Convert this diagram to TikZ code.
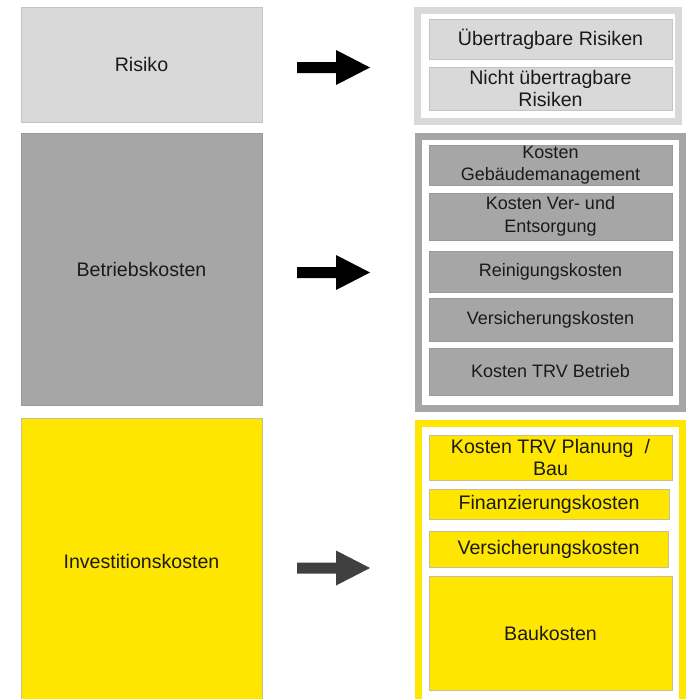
\documentclass[tikz,border=0pt]{standalone}
\usepackage{fontspec}
\setmainfont{Liberation Sans}
\definecolor{lgrey}{HTML}{D9D9D9}
\definecolor{lgreyb}{HTML}{C4C4C4}
\definecolor{mgrey}{HTML}{A6A6A6}
\definecolor{mgreyb}{HTML}{9A9A9A}
\definecolor{eyyel}{HTML}{FFE600}
\definecolor{yelb}{HTML}{C8C090}
\definecolor{arrdark}{HTML}{404040}
\definecolor{txt}{HTML}{1A1A1A}
\newcommand{\bx}[7]{%
  \node[#6, minimum width={(#4-#2)*1pt}, minimum height={(#5-#3)*1pt}]
    (#1) at ({(#2+#4)/2},{(#3+#5)/2}) {#7};}
\newcommand{\blockarrow}[3]{% name, y center, colour
  \coordinate (#1) at (297,#2);
  \fill[#3] (#1) ++(0,-5.5) -- ++(39,0) -- ++(0,-12) -- ++(34,17.5)
    -- ++(-34,17.5) -- ++(0,-12) -- ++(-39,0) -- cycle;}
\tikzset{
  box/.style={rectangle, inner sep=0pt, outer sep=0pt, align=center,
    text=txt, font=\fontsize{19.6}{22.5}\selectfont},
  leftlight/.style={box, fill=lgrey, draw=lgreyb, line width=0.6pt},
  leftmid/.style={box, fill=mgrey, draw=mgreyb, line width=0.6pt},
  leftyel/.style={box, fill=eyyel, draw=yelb, line width=0.6pt},
  innerlight/.style={box, fill=lgrey, draw=lgreyb, line width=0.6pt},
  innermid/.style={box, fill=mgrey, draw=mgreyb, line width=0.6pt,
    font=\fontsize{18}{22.5}\selectfont},
  inneryel/.style={box, fill=eyyel, draw=yelb, line width=0.6pt},
  frame/.style={fill=white, line width=7pt},
}
\begin{document}
\begin{tikzpicture}[x=1pt,y=-1pt]
\useasboundingbox (0,0) rectangle (686,699);
\clip (0,0) rectangle (686,699);
% left boxes
\bx{risiko}{21}{7}{262}{122}{leftlight}{Risiko}
\bx{betrieb}{21}{133}{262}{405}{leftmid}{Betriebskosten}
\bx{invest}{21}{418}{262}{705}{leftyel}{Investitionskosten}
% right frames
\draw[frame, draw=lgrey] (417.5,10.5) rectangle (678,121.5);
\draw[frame, draw=mgrey] (418.5,136.5) rectangle (682.5,408.5);
\draw[frame, draw=eyyel] (418.5,423.5) rectangle (682.5,706);
% top inner boxes
\bx{uebr}{429}{19}{672}{59}{innerlight}{Übertragbare Risiken}
\bx{nuebr}{429}{67}{672}{110}{innerlight}{Nicht übertragbare\\Risiken}
% middle inner boxes
\bx{gm}{429}{145}{672}{185}{innermid}{Kosten\\Gebäudemanagement}
\bx{ve}{429}{193}{672}{240}{innermid}{Kosten Ver- und\\Entsorgung}
\bx{rk}{429}{251}{672}{292}{innermid}{Reinigungskosten}
\bx{vk}{429}{298}{672}{341}{innermid}{Versicherungskosten}
\bx{trvb}{429}{348}{672}{395}{innermid}{Kosten TRV Betrieb}
% bottom inner boxes
\bx{trvp}{429}{435}{672}{480}{inneryel}{Kosten TRV Planung\ \ /\\Bau}
\bx{fin}{429}{489}{669}{519}{inneryel}{Finanzierungskosten}
\bx{vky}{429}{531}{668}{567}{inneryel}{Versicherungskosten}
\bx{bau}{429}{576}{672}{690}{inneryel}{Baukosten}
% arrows
\blockarrow{a1}{67.5}{black}
\blockarrow{a2}{272.5}{black}
\blockarrow{a3}{568}{arrdark}
\end{tikzpicture}
\end{document}
